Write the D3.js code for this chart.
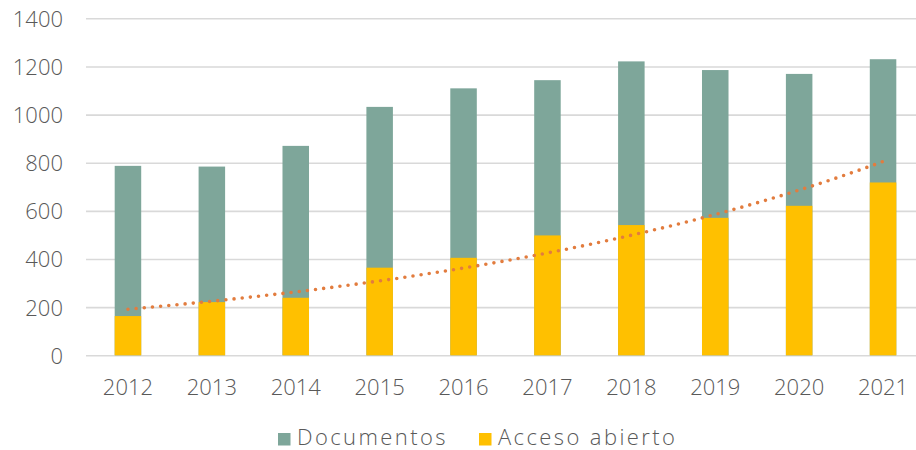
<!DOCTYPE html>
<html>
<head>
<meta charset="utf-8">
<script src="https://cdn.jsdelivr.net/npm/d3@7"></script>
<style>
  html, body { margin: 0; padding: 0; background: #fff; }
  svg text { font-family: "Open Sans", "DejaVu Sans", sans-serif; fill: #595959; font-weight: 300; }
</style>
</head>
<body>
<svg id="chart" width="916" height="450"></svg>
<script>
const years = ["2012","2013","2014","2015","2016","2017","2018","2019","2020","2021"];
const documentos = [787, 784, 870, 1032, 1109, 1143, 1221, 1185, 1169, 1230];
const accesoAbierto = [163, 221, 239, 364, 405, 498, 541, 571, 621, 718];
const yTicks = [0, 200, 400, 600, 800, 1000, 1200, 1400];
const seriesNames = ["Documentos", "Acceso abierto"];
const colors = ["#7EA69A", "#FFC000"];
const trendColor = "#E27C3E";

const svg = d3.select("#chart");
const plotL = 86, plotR = 925, plotT = 18.3, plotB = 355.3;

const x = d3.scaleBand().domain(years).range([plotL, plotR]).paddingInner(0.684).paddingOuter(0.342);
const y = d3.scaleLinear().domain([0, 1400]).range([plotB, plotT]);

// gridlines
const yAxis = d3.axisLeft(y).tickValues(yTicks).tickSize(-(plotR - plotL)).tickPadding(23).tickFormat(d3.format("d"));
const gAxis = svg.append("g").attr("transform", `translate(${plotL},0)`).call(yAxis);
gAxis.select(".domain").remove();
gAxis.selectAll(".tick line").attr("stroke", "#D9D9D9").attr("stroke-width", 1.6);
gAxis.selectAll(".tick text").attr("font-size", 22).attr("fill", "#595959")
  .attr("font-family", "'Open Sans', sans-serif").attr("dy", "0.36em");

// bars: documentos (total) then acceso abierto overlaid
svg.append("g").selectAll("rect").data(years).join("rect")
  .attr("x", d => x(d)).attr("width", x.bandwidth())
  .attr("y", (d, i) => y(documentos[i]))
  .attr("height", (d, i) => y(0) - y(documentos[i]))
  .attr("fill", colors[0]);
svg.append("g").selectAll("rect").data(years).join("rect")
  .attr("x", d => x(d)).attr("width", x.bandwidth())
  .attr("y", (d, i) => y(accesoAbierto[i]))
  .attr("height", (d, i) => y(0) - y(accesoAbierto[i]))
  .attr("fill", colors[1]);

// exponential trendline fitted to acceso abierto
const idx = accesoAbierto.map((v, i) => i);
const lnv = accesoAbierto.map(v => Math.log(v));
const mx = d3.mean(idx), my = d3.mean(lnv);
const b = d3.sum(idx, i => (i - mx) * (lnv[i] - my)) / d3.sum(idx, i => (i - mx) ** 2);
const a = my - b * mx;
const xi = d3.scaleLinear().domain([0, years.length - 1])
  .range([x(years[0]) + x.bandwidth() / 2, x(years[years.length - 1]) + x.bandwidth() / 2]);
const trendPts = d3.range(0, years.length - 1 + 1e-9, 0.05).map(t => [xi(t), y(Math.exp(a + b * t))]);
svg.append("path").attr("d", d3.line()(trendPts))
  .attr("fill", "none").attr("stroke", trendColor).attr("stroke-width", 3.6)
  .attr("stroke-linecap", "round").attr("stroke-dasharray", "0 8.2");

// x labels
svg.append("g").selectAll("text").data(years).join("text")
  .attr("x", d => x(d) + x.bandwidth() / 2).attr("y", 395)
  .attr("text-anchor", "middle").attr("font-size", 22).text(d => d);

// legend
const legendX = [278, 479];
const lg = svg.append("g").selectAll("g").data(seriesNames).join("g");
lg.append("rect").attr("x", (d, i) => legendX[i]).attr("y", 433).attr("width", 12.5).attr("height", 12.5)
  .attr("fill", (d, i) => colors[i]);
lg.append("text").attr("x", (d, i) => legendX[i] + 19).attr("y", 445)
  .attr("font-size", 22).attr("letter-spacing", 2.4).text(d => d);
</script>
</body>
</html>
